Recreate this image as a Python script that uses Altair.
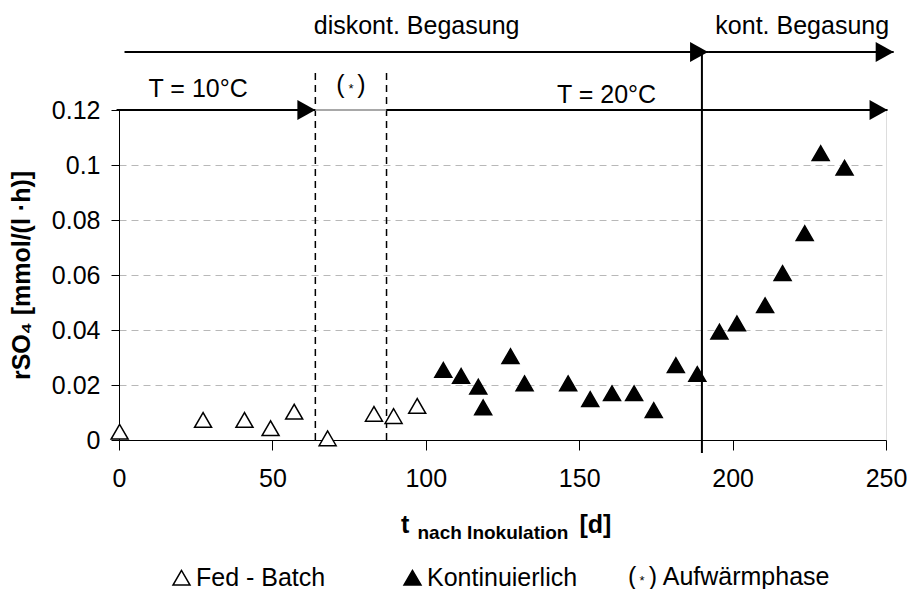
import altair as alt
import pandas as pd

FONT = "Liberation Sans"

# ---- data ----
fed_t = [0.2, 27.4, 40.9, 49.4, 57.1, 68.0, 83.1, 89.5, 97.2]
fed_v = [0.0030, 0.0073, 0.0073, 0.0043, 0.0103, 0.0006, 0.0095, 0.0087, 0.0124]

kont_t = [105.7, 111.5, 117.1, 118.7, 127.6, 132.2, 146.4, 153.6, 160.7, 167.9,
          174.3, 181.5, 188.5, 195.7, 201.4, 210.6, 216.3, 223.5, 228.7, 236.5]
kont_v = [0.0255, 0.0233, 0.0194, 0.0119, 0.0305, 0.0206, 0.0206, 0.0149, 0.0170, 0.0170,
          0.0109, 0.0272, 0.0240, 0.0394, 0.0424, 0.0490, 0.0607, 0.0752, 0.1043, 0.0990]

series_names = ["Fed - Batch", "Kontinuierlich"]
x_ticks = [0, 50, 100, 150, 200, 250]
y_ticks = [0, 0.02, 0.04, 0.06, 0.08, 0.1, 0.12]

# phase boundaries
dashed_t = [64.0, 87.2]
dashed_top = 0.135
solid_t = [190.0]
solid_top = 0.1411
solid_bottom = -0.0047

# arrows: start, end, level, colour, arrowhead
arrow_start = [-0.8, 64.0, 87.2, 1.8, 192.0]
arrow_end = [64.0, 87.2, 250.5, 192.0, 252.5]
arrow_level = [0.12, 0.12, 0.12, 0.1411, 0.1411]
arrow_color = ["black", "#a8a8a8", "black", "black", "black"]
arrow_head = [True, False, True, True, True]

# annotations (the small asterisk of "(*)" is drawn separately)
ann_text = ["diskont. Begasung", "kont. Begasung", "T = 10°C", "(\u2002)", "T = 20°C"]
ann_t = [97.0, 222.7, 25.8, 75.6, 158.9]
ann_v = [0.1478, 0.1478, 0.1249, 0.1262, 0.1224]
star_t = [75.6]
star_v = [0.1262]

# ---- tables ----
pts = pd.DataFrame({
    "t": fed_t + kont_t,
    "v": fed_v + kont_v,
    "series": [series_names[0]] * len(fed_t) + [series_names[1]] * len(kont_t),
})
arrows = pd.DataFrame({"t": arrow_start, "t2": arrow_end, "v": arrow_level,
                       "c": arrow_color, "head": arrow_head})
heads = arrows[arrows["head"]]
dashed = pd.DataFrame({"t": dashed_t, "v": [0.0] * len(dashed_t), "v2": [dashed_top] * len(dashed_t)})
solid = pd.DataFrame({"t": solid_t, "v": [solid_bottom], "v2": [solid_top]})
ann = pd.DataFrame({"text": ann_text, "t": ann_t, "v": ann_v})
star = pd.DataFrame({"t": star_t, "v": star_v})
one = pd.DataFrame({"k": [0]})

xscale = alt.Scale(domain=[0, 250], nice=False)
yscale = alt.Scale(domain=[0, 0.12], nice=False, zero=False)

X = alt.X("t:Q", scale=xscale, axis=alt.Axis(
    values=x_ticks, title=None, grid=False, tickSize=10, labelPadding=16,
    labelFontSize=25, labelFont=FONT, labelColor="black",
    domainColor="black", tickColor="black", labelFlush=False))
Y = alt.Y("v:Q", scale=yscale, axis=alt.Axis(
    values=y_ticks, format=".2~f", title="rSO₄ [mmol/(l ·h)]",
    titleFont=FONT, titleFontSize=25, titleFontWeight="bold", titleColor="black",
    titlePadding=17, grid=True, gridColor="#b8b8b8", gridDash=[7, 5], gridWidth=1,
    tickSize=8, labelPadding=11, labelFontSize=25, labelFont=FONT, labelColor="black",
    domainColor="black", tickColor="black"))

points = alt.Chart(pts).mark_point(
    shape="triangle-up", filled=True, stroke="black", strokeWidth=1.5, size=289, opacity=1
).encode(
    x=X, y=Y,
    fill=alt.Fill("series:N",
                  scale=alt.Scale(domain=series_names, range=["white", "black"]),
                  legend=alt.Legend(title=None, orient="none", legendX=50, legendY=455,
                                    direction="horizontal", symbolType="triangle-up",
                                    symbolSize=289, symbolStrokeColor="black",
                                    symbolStrokeWidth=1.5, labelFontSize=25, labelFont=FONT,
                                    labelColor="black", columnPadding=74, labelOffset=2,
                                    padding=0)),
)

dash_lines = alt.Chart(dashed).mark_rule(color="black", strokeWidth=1.5, strokeDash=[7, 5]).encode(
    x="t:Q", y="v:Q", y2="v2:Q")
solid_line = alt.Chart(solid).mark_rule(color="black", strokeWidth=2).encode(
    x="t:Q", y="v:Q", y2="v2:Q")

arrow_lines = alt.Chart(arrows).mark_rule(strokeWidth=2.2).encode(
    x="t:Q", x2="t2:Q", y="v:Q", color=alt.Color("c:N", scale=None))
arrow_heads = alt.Chart(heads).mark_point(
    shape="M-0.9,-1L0.9,0L-0.9,1Z", filled=True, color="black", opacity=1, size=400, xOffset=-9
).encode(x="t2:Q", y="v:Q")

labels = alt.Chart(ann).mark_text(
    font=FONT, fontSize=25, color="black", align="center", baseline="alphabetic"
).encode(x="t:Q", y="v:Q", text="text:N")
star_lbl = alt.Chart(star).mark_text(
    text="*", font=FONT, fontSize=13, color="black", align="center", baseline="alphabetic"
).encode(x="t:Q", y="v:Q")

# x axis title built from pieces (subscript)
xt1 = alt.Chart(one).mark_text(text="t", font=FONT, fontSize=25, fontWeight="bold",
                               align="left", baseline="alphabetic", color="black").encode(
    x=alt.value(282), y=alt.value(423))
xt2 = alt.Chart(one).mark_text(text="nach Inokulation", font=FONT, fontSize=19, fontWeight="bold",
                               align="left", baseline="alphabetic", color="black").encode(
    x=alt.value(298.5), y=alt.value(429))
xt3 = alt.Chart(one).mark_text(text="[d]", font=FONT, fontSize=25, fontWeight="bold",
                               align="left", baseline="alphabetic", color="black").encode(
    x=alt.value(460.5), y=alt.value(423))

# third legend entry "(*) Aufwärmphase"
leg3 = alt.Chart(one).mark_text(text="(\u2002) Aufwärmphase", font=FONT, fontSize=25,
                                align="left", baseline="alphabetic", color="black").encode(
    x=alt.value(509), y=alt.value(475))
leg3s = alt.Chart(one).mark_text(text="*", font=FONT, fontSize=13,
                                 align="center", baseline="alphabetic", color="black").encode(
    x=alt.value(523), y=alt.value(475))

chart = alt.layer(
    dash_lines, solid_line, arrow_lines, arrow_heads, points, labels, star_lbl,
    xt1, xt2, xt3, leg3, leg3s
).properties(
    width=767, height=330,
    autosize=alt.AutoSizeParams(type="none"),
    padding={"left": 111, "top": 102, "right": 21, "bottom": 149},
).configure_view(
    stroke="#999999", strokeWidth=1
).configure(background="white")

chart.save("out.html", embed_options={"renderer": "svg", "actions": False})
